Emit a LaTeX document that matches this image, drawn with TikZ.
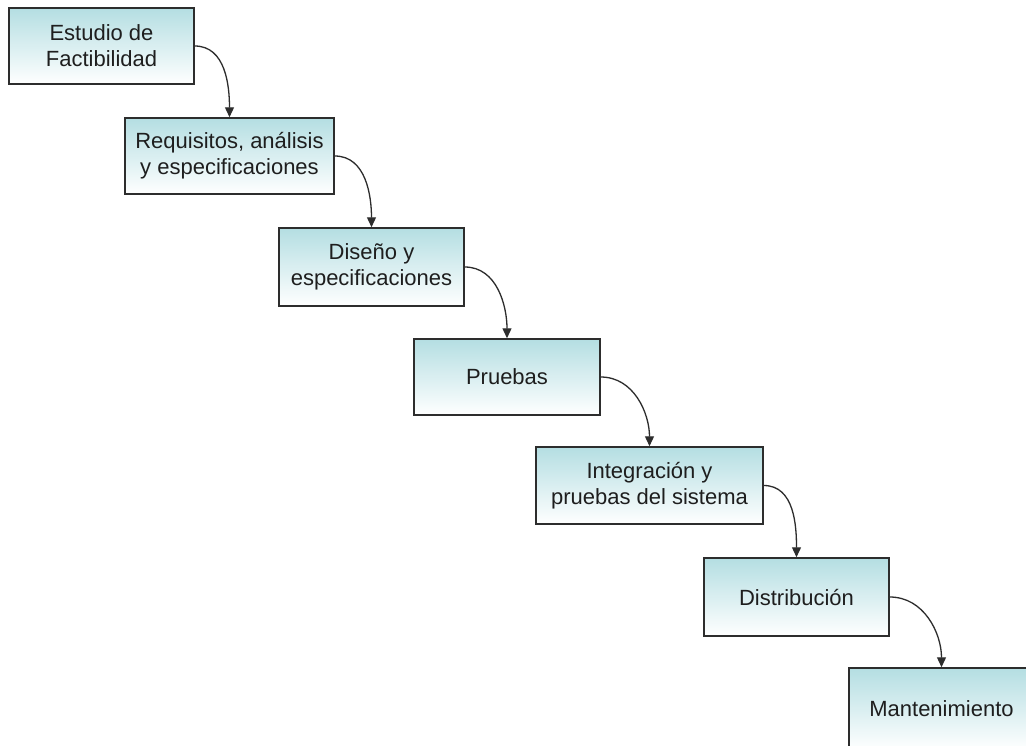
\documentclass[tikz,border=0pt]{standalone}
\usepackage{fontspec}
\setmainfont{Liberation Sans}
\usetikzlibrary{arrows.meta}
\definecolor{boxtop}{RGB}{180,222,226}
\definecolor{boxline}{RGB}{45,45,45}
\definecolor{boxtext}{RGB}{30,30,30}
\tikzset{
  phase/.style={draw=boxline, line width=1.5pt, rectangle,
    top color=boxtop, bottom color=white,
    align=center, inner sep=0pt, text=boxtext,
    font=\fontsize{22}{26}\selectfont},
  flow/.style={draw=boxline, line width=1.3pt,
    -{Triangle[length=10pt,width=9pt]}}
}
\begin{document}
\begin{tikzpicture}[x=1pt,y=1pt]
  \useasboundingbox (0,0) rectangle (1026,-745);
  \clip (0,0) rectangle (1026,-745);
  \fill[white] (0,0) rectangle (1026,-745);

  % waterfall stages
  \node[phase, minimum width=185pt, minimum height=76pt] (b1) at (101.5,-46)   {Estudio de\\Factibilidad};
  \node[phase, minimum width=209pt, minimum height=76pt] (b2) at (229.5,-156)  {Requisitos, análisis\\y especificaciones};
  \node[phase, minimum width=185pt, minimum height=78pt] (b3) at (371.5,-267)  {Diseño y\\especificaciones};
  \node[phase, minimum width=186pt, minimum height=76pt] (b4) at (507,-377)    {Pruebas};
  \node[phase, minimum width=227pt, minimum height=77pt] (b5) at (649.5,-485.5){Integración y\\pruebas del sistema};
  \node[phase, minimum width=185pt, minimum height=78pt] (b6) at (796.5,-597)  {Distribución};
  \node[phase, minimum width=185pt, minimum height=82pt] (b7) at (941.5,-709)  {Mantenimiento};

  % curved hand-offs between stages
  \draw[flow] (b1.east) to[out=0,in=90] (b2.north);
  \draw[flow] (b2.east) to[out=0,in=90] (b3.north);
  \draw[flow] (b3.east) to[out=0,in=90] (b4.north);
  \draw[flow] (b4.east) to[out=0,in=90] (b5.north);
  \draw[flow] (b5.east) to[out=0,in=90] (b6.north);
  \draw[flow] (b6.east) to[out=0,in=90] (b7.north);
\end{tikzpicture}
\end{document}
